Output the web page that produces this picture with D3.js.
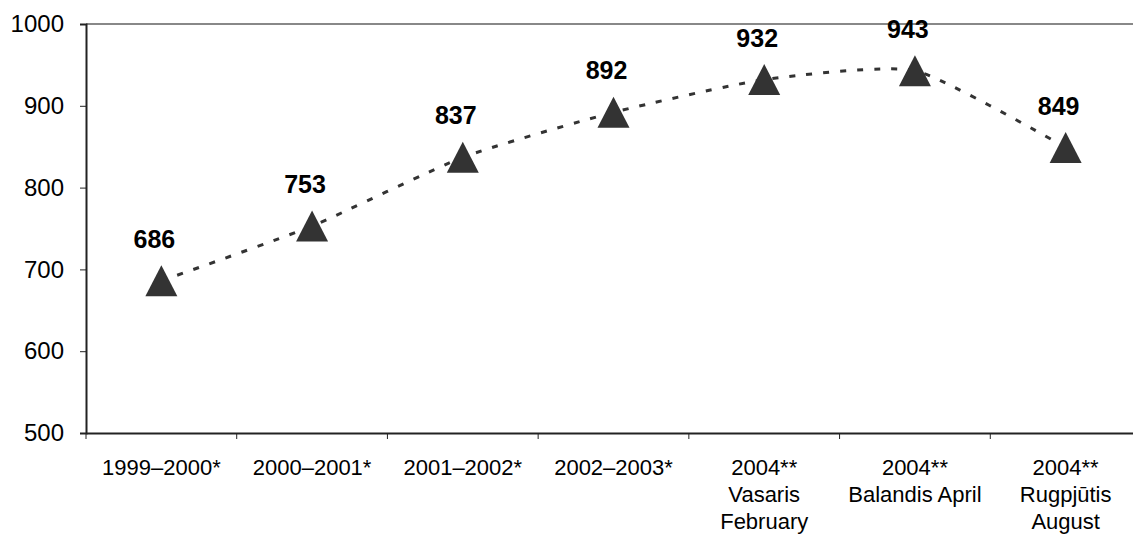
<!DOCTYPE html>
<html><head><meta charset="utf-8">
<script src="https://cdn.jsdelivr.net/npm/d3@7"></script>
<style>body{margin:0;background:#fff}svg{display:block;font-family:"Liberation Sans",Arial,sans-serif}</style>
</head><body><svg id="c" width="1133" height="536"></svg>
<script>
const categories = [
  ["1999–2000*"],
  ["2000–2001*"],
  ["2001–2002*"],
  ["2002–2003*"],
  ["2004**", "Vasaris", "February"],
  ["2004**", "Balandis April"],
  ["2004**", "Rugpjūtis", "August"]
];
const values = [686, 753, 837, 892, 932, 943, 849];
const yTicks = [500, 600, 700, 800, 900, 1000];

const svg = d3.select("#c");
const mLeft = 86, mRight = 1141, mTop = 24, mBottom = 433;
const x = d3.scaleBand().domain(d3.range(categories.length)).range([mLeft, mRight]);
const y = d3.scaleLinear().domain([500, 1000]).range([mBottom, mTop]);
const FONT = "Liberation Sans, Arial, sans-serif";

// top gray border
svg.append("line").attr("x1", mLeft).attr("x2", 1133).attr("y1", y(1000)).attr("y2", y(1000))
  .attr("stroke", "#888").attr("stroke-width", 2);

// y axis
const ya = svg.append("g").attr("transform", `translate(${mLeft},0)`)
  .call(d3.axisLeft(y).tickValues(yTicks).tickSize(6).tickPadding(16).tickFormat(d3.format("d")));
ya.select(".domain").attr("stroke", "#222").attr("stroke-width", 2);
ya.selectAll(".tick line").attr("stroke", "#222").attr("stroke-width", 1);
ya.selectAll(".tick text").attr("font-size", 24).attr("fill", "#000").attr("font-family", FONT);

// x axis
const xa = svg.append("g").attr("transform", `translate(0,${mBottom})`)
  .call(d3.axisBottom(x).tickSize(0).tickFormat(""));
xa.select(".domain").attr("stroke", "#222").attr("stroke-width", 2);
const tickPos = d3.range(categories.length).map(i => x(i));
xa.selectAll(".sep").data(tickPos).join("line").attr("class", "sep")
  .attr("x1", d => d).attr("x2", d => d).attr("y1", 0).attr("y2", 6)
  .attr("stroke", "#222").attr("stroke-width", 1);
const lbl = xa.selectAll(".lbl").data(categories).join("text").attr("class", "lbl")
  .attr("text-anchor", "middle").attr("font-size", 22).attr("fill", "#000")
  .attr("font-family", FONT)
  .attr("transform", (d, i) => `translate(${x(i) + x.bandwidth() / 2},0)`);
lbl.selectAll("tspan").data(d => d).join("tspan")
  .attr("x", 0).attr("y", (d, j) => 42 + j * 27).text(d => d);

// line
const cx = i => x(i) + x.bandwidth() / 2;
const line = d3.line().x((d, i) => cx(i)).y(d => y(d)).curve(d3.curveCardinal.tension(0.45));
svg.append("path").attr("d", line(values)).attr("fill", "none")
  .attr("stroke", "#333").attr("stroke-width", 3).attr("stroke-dasharray", "6,11");

// markers
const triangle = { draw(ctx) { const w = 16, h = 15.5; ctx.moveTo(0, -h); ctx.lineTo(w, h); ctx.lineTo(-w, h); ctx.closePath(); } };
svg.selectAll(".m").data(values).join("path").attr("class", "m")
  .attr("d", d3.symbol().type(triangle)()).attr("fill", "#333")
  .attr("transform", (d, i) => `translate(${cx(i)},${y(d)})`);

// value labels
svg.selectAll(".v").data(values).join("text").attr("class", "v")
  .attr("x", (d, i) => cx(i) - 7).attr("y", d => y(d) - 33)
  .attr("text-anchor", "middle").attr("font-size", 25).attr("font-weight", "bold")
  .attr("font-family", FONT).attr("fill", "#000").text(d => d);
</script></body></html>
